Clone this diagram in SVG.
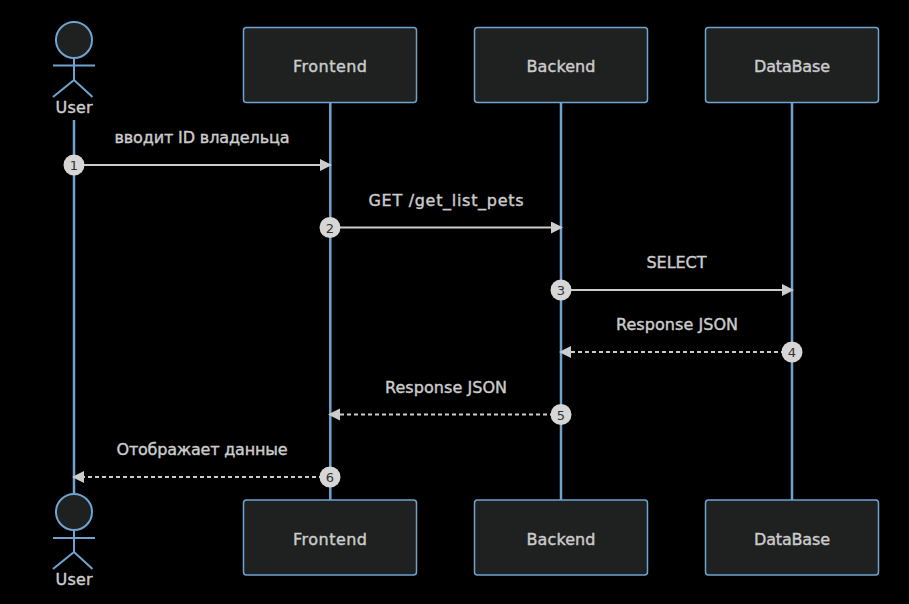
<svg xmlns="http://www.w3.org/2000/svg" width="909" height="604" viewBox="0 0 909 604">
<style>
text{font-family:"DejaVu Sans",sans-serif;font-size:16px;fill:#ccc;text-anchor:middle;stroke:#ccc;stroke-width:.4}
.box{fill:#1f2020;stroke:#6fa3d0;stroke-width:1.5}
.life{stroke:#6fa3d0;stroke-width:2.5;fill:none}
.act{stroke:#6fa3d0;stroke-width:2;fill:none}
.head{fill:#1f2020;stroke:#6fa3d0;stroke-width:2}
.msg{stroke:#ccc;stroke-width:2;fill:none}
.dash{stroke-dasharray:4 3}
.seq{fill:#d6d6d6}
.num{font-size:13px;fill:#333;stroke:none}
</style>
<defs>
<marker id="arrow" markerUnits="userSpaceOnUse" markerWidth="14" markerHeight="14" refX="10" refY="6" orient="auto"><path d="M0 0L12 6L0 12Z" fill="#ccc"/></marker>
</defs>
<rect width="909" height="604" fill="#000"/>
<g id="lifelines">
<path class="life" d="M74 120V493M330.300 103V500M561 103V500M792 103V500"/>
</g>
<g id="connectors">
<path class="msg" d="M74 165H330" marker-end="url(#arrow)"/>
<path class="msg" d="M330 227.500H561" marker-end="url(#arrow)"/>
<path class="msg" d="M561 290H792" marker-end="url(#arrow)"/>
<path class="msg dash" d="M792 352H561" marker-end="url(#arrow)"/>
<path class="msg dash" d="M561 414.500H330" marker-end="url(#arrow)"/>
<path class="msg dash" d="M330 477H74" marker-end="url(#arrow)"/>
</g>
<g id="labels">
<text x="202" y="143" textLength="175">вводит ID владельца</text>
<text x="446" y="205.500" textLength="155">GET /get_list_pets</text>
<text x="676.500" y="267.500" textLength="60">SELECT</text>
<text x="677" y="330" textLength="122">Response JSON</text>
<text x="446" y="392.500" textLength="122">Response JSON</text>
<text x="202" y="455" textLength="171">Отображает данные</text>
</g>
<g id="seq-numbers">
<g id="seq1"><circle class="seq" cx="74" cy="165" r="10.500"/><text class="num" x="74" y="170">1</text></g>
<g id="seq2"><circle class="seq" cx="330" cy="227.500" r="10.500"/><text class="num" x="330" y="232.500">2</text></g>
<g id="seq3"><circle class="seq" cx="561" cy="290" r="10.500"/><text class="num" x="561" y="295">3</text></g>
<g id="seq4"><circle class="seq" cx="792" cy="352" r="10.500"/><text class="num" x="792" y="357">4</text></g>
<g id="seq5"><circle class="seq" cx="561" cy="414.500" r="10.500"/><text class="num" x="561" y="419.500">5</text></g>
<g id="seq6"><circle class="seq" cx="330" cy="477" r="10.500"/><text class="num" x="330" y="482">6</text></g>
</g>
<g id="user-top"><circle class="head" cx="74" cy="40" r="18"/><path class="act" d="M74 58V80M53 65.500H95M74 80L53 97M74 80L92.500 97"/><text x="74" y="113" textLength="37">User</text></g>
<g id="frontend-top"><rect class="box" x="243.500" y="27.500" width="173" height="75" rx="3"/><text x="330" y="71.500" textLength="74">Frontend</text></g>
<g id="backend-top"><rect class="box" x="474.500" y="27.500" width="173" height="75" rx="3"/><text x="561" y="71.500" textLength="69">Backend</text></g>
<g id="database-top"><rect class="box" x="705.500" y="27.500" width="173" height="75" rx="3"/><text x="792" y="71.500" textLength="76">DataBase</text></g>
<g id="user-bottom"><circle class="head" cx="74" cy="512" r="18"/><path class="act" d="M74 530V552M53 538H95M74 552L53 569M74 552L92.500 569"/><text x="74" y="585" textLength="37">User</text></g>
<g id="frontend-bottom"><rect class="box" x="243.500" y="500" width="173" height="75" rx="3"/><text x="330" y="544.500" textLength="74">Frontend</text></g>
<g id="backend-bottom"><rect class="box" x="474.500" y="500" width="173" height="75" rx="3"/><text x="561" y="544.500" textLength="69">Backend</text></g>
<g id="database-bottom"><rect class="box" x="705.500" y="500" width="173" height="75" rx="3"/><text x="792" y="544.500" textLength="76">DataBase</text></g>
</svg>
